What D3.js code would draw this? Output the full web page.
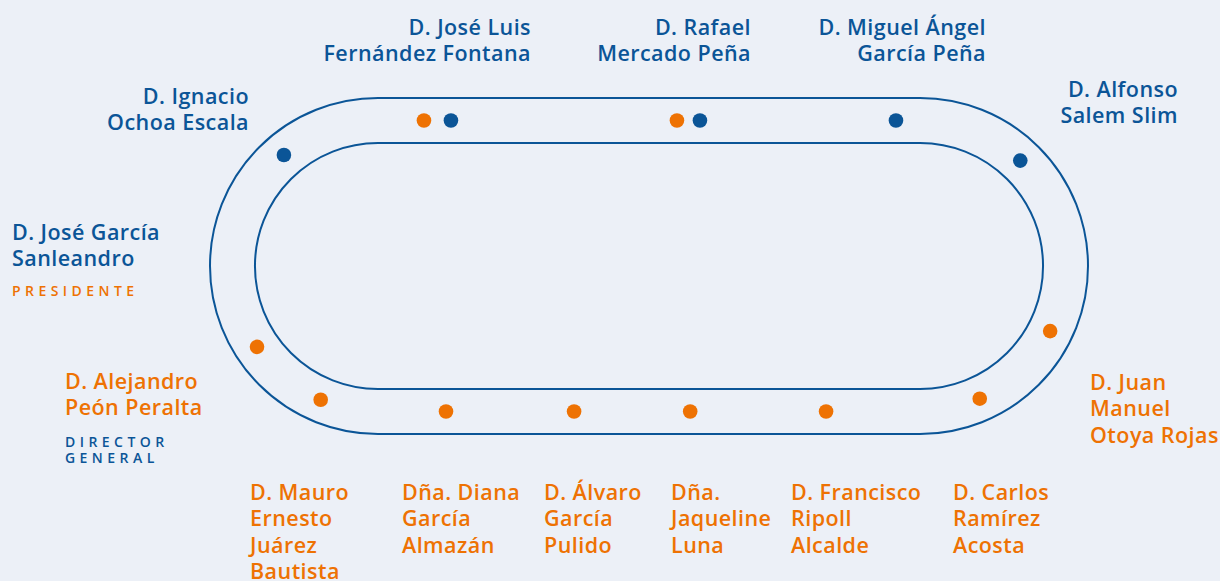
<!DOCTYPE html>
<html>
<head>
<meta charset="utf-8">
<script src="https://cdn.jsdelivr.net/npm/d3@7"></script>
<style>
  html, body { margin: 0; padding: 0; background: #ecf0f7; }
  svg { display: block; }
  text { font-family: "Open Sans", "Noto Sans", sans-serif; }
</style>
</head>
<body>
<svg id="chart" width="1220" height="581"></svg>
<script>
// ---- data ----
// seats: position along the track, as a percentage of a full lap (clockwise from top-left straight)
const seatNames = [
  "seat 1", "seat 2", "seat 3", "seat 4", "seat 5", "seat 6", "seat 7", "seat 8",
  "seat 9", "seat 10", "seat 11", "seat 12", "seat 13", "seat 14", "seat 15"
];
const seatPositions = [2.3, 3.65, 14.96, 16.11, 25.92, 32.66, 41.94, 46.92, 54.7, 61.5, 67.31, 73.72, 80.07, 84.27, 94.88];
const seatGroups = ["o", "b", "o", "b", "b", "b", "o", "o", "o", "o", "o", "o", "o", "o", "b"];

// labels: text lines, group, anchor side
const labelLines = [
  ["D. José Luis", "Fernández Fontana"],
  ["D. Rafael", "Mercado Peña"],
  ["D. Miguel Ángel", "García Peña"],
  ["D. Ignacio", "Ochoa Escala"],
  ["D. Alfonso", "Salem Slim"],
  ["D. José García", "Sanleandro"],
  ["D. Alejandro", "Peón Peralta"],
  ["D. Juan", "Manuel", "Otoya Rojas"],
  ["D. Mauro", "Ernesto", "Juárez", "Bautista"],
  ["Dña. Diana", "García", "Almazán"],
  ["D. Álvaro", "García", "Pulido"],
  ["Dña.", "Jaqueline", "Luna"],
  ["D. Francisco", "Ripoll", "Alcalde"],
  ["D. Carlos", "Ramírez", "Acosta"]
];
const labelGroups = ["b", "b", "b", "b", "b", "b", "o", "o", "o", "o", "o", "o", "o", "o"];
const labelAnchors = ["end", "end", "end", "end", "end", "start", "start", "start", "start", "start", "start", "start", "start", "start"];
const labelX = [531, 751, 986, 249, 1178, 12, 65, 1090, 250, 402, 544, 671, 791, 953];
const labelY = [35, 35, 35, 104, 97, 240, 389, 390, 500, 500, 500, 500, 500, 500];

const roleLines = [["PRESIDENTE"], ["DIRECTOR", "GENERAL"]];
const roleGroups = ["o", "b"];
const roleX = [12, 65];
const roleY = [296, 446.5];

// ---- style / layout ----
const colors = { b: "#0b5597", o: "#ee7203" };
const svg = d3.select("#chart");

const leftC = 378, rightC = 920, cy = 266;
const rOuter = 168, rInner = 123, rMid = 145.5;

function stadium(r) {
  const p = d3.path();
  p.moveTo(leftC, cy - r);
  p.lineTo(rightC, cy - r);
  p.arc(rightC, cy, r, -Math.PI / 2, Math.PI / 2, false);
  p.lineTo(leftC, cy + r);
  p.arc(leftC, cy, r, Math.PI / 2, 3 * Math.PI / 2, false);
  p.closePath();
  return p.toString();
}

svg.selectAll("path.track")
  .data([rOuter, rInner])
  .join("path")
  .attr("class", "track")
  .attr("d", d => stadium(d))
  .attr("fill", "none")
  .attr("stroke", colors.b)
  .attr("stroke-width", 2);

const mid = svg.append("path")
  .attr("d", stadium(rMid))
  .attr("fill", "none")
  .attr("stroke", "none");
const total = mid.node().getTotalLength();
const posScale = d3.scaleLinear().domain([0, 100]).range([0, total]);

const seats = seatPositions.map((p, i) => ({ name: seatNames[i], pos: p, g: seatGroups[i] }));
svg.selectAll("circle.seat")
  .data(seats)
  .join("circle")
  .attr("class", "seat")
  .each(function (d) {
    const pt = mid.node().getPointAtLength(posScale(d.pos));
    d3.select(this).attr("cx", pt.x).attr("cy", pt.y);
  })
  .attr("r", 7.3)
  .attr("fill", d => colors[d.g]);

const labels = labelLines.map((lines, i) => ({ lines, g: labelGroups[i], a: labelAnchors[i], x: labelX[i], y: labelY[i] }));
const lg = svg.selectAll("text.name")
  .data(labels)
  .join("text")
  .attr("class", "name")
  .attr("x", d => d.x)
  .attr("y", d => d.y)
  .attr("text-anchor", d => d.a)
  .attr("fill", d => colors[d.g])
  .attr("font-size", 21.5)
  .attr("font-weight", 600)
  .attr("letter-spacing", 0.45);
lg.selectAll("tspan")
  .data(d => d.lines.map((t, j) => ({ t, j, x: d.x })))
  .join("tspan")
  .attr("x", d => d.x)
  .attr("dy", d => d.j === 0 ? 0 : 26.3)
  .text(d => d.t);

const roles = roleLines.map((lines, i) => ({ lines, g: roleGroups[i], x: roleX[i], y: roleY[i] }));
const rg = svg.selectAll("text.role")
  .data(roles)
  .join("text")
  .attr("class", "role")
  .attr("x", d => d.x)
  .attr("y", d => d.y)
  .attr("fill", d => colors[d.g])
  .attr("font-size", 14)
  .attr("font-weight", 600)
  .attr("letter-spacing", 4.45);
rg.selectAll("tspan")
  .data(d => d.lines.map((t, j) => ({ t, j, x: d.x })))
  .join("tspan")
  .attr("x", d => d.x)
  .attr("dy", d => d.j === 0 ? 0 : 16.5)
  .text(d => d.t);
</script>
</body>
</html>
